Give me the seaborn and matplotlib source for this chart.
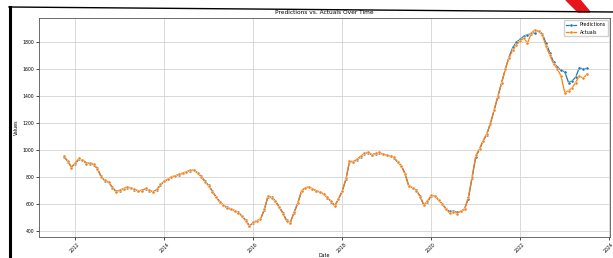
import matplotlib
matplotlib.use("Agg")
import matplotlib.pyplot as plt
import matplotlib.dates as mdates
from matplotlib.patches import Polygon
from matplotlib.lines import Line2D
import numpy as np
import pandas as pd
import seaborn as sns

# monthly observations, Oct 2011 .. Jul 2023
dates = pd.date_range("2011-10-01", "2023-07-01", freq="MS")

actuals = [
    955, 920, 870,
    905, 938, 925, 900, 905, 895, 860, 800, 775, 765, 720, 690,
    705, 715, 728, 720, 708, 700, 700, 716, 705, 688, 710, 745,
    770, 785, 802, 810, 820, 830, 840, 850, 852, 830, 800, 765,
    735, 690, 650, 615, 590, 570, 560, 550, 535, 510, 475, 435,
    465, 478, 490, 560, 661, 645, 620, 575, 530, 475, 462, 540,
    610, 700, 720, 728, 715, 700, 690, 675, 650, 620, 585, 640,
    700, 790, 920, 915, 930, 955, 975, 985, 965, 975, 983, 970,
    965, 955, 945, 910, 880, 820, 730, 720, 700, 655, 590, 620,
    665, 660, 630, 600, 560, 535, 540, 530, 550, 560, 650, 800,
    960, 1010, 1070, 1120, 1200, 1300, 1400, 1500, 1600, 1685, 1740, 1780,
    1810, 1830, 1790, 1864, 1890, 1880, 1850, 1770, 1700, 1640, 1600, 1550,
    1425, 1440, 1460, 1500, 1550, 1530, 1560,
]

predictions = [
    950, 915, 875,
    900, 930, 928, 905, 900, 890, 865, 805, 770, 760, 725, 695,
    700, 712, 722, 718, 705, 698, 702, 712, 700, 692, 705, 740,
    768, 782, 800, 808, 818, 828, 838, 848, 850, 832, 805, 770,
    738, 695, 655, 618, 592, 575, 565, 552, 540, 512, 480, 440,
    460, 475, 488, 555, 655, 650, 625, 580, 535, 480, 465, 535,
    605, 695, 718, 725, 712, 698, 688, 672, 648, 618, 590, 635,
    695, 785, 910, 912, 928, 950, 972, 980, 965, 972, 980, 968,
    962, 955, 942, 912, 885, 825, 735, 722, 702, 660, 595, 615,
    660, 662, 632, 602, 565, 545, 548, 540, 545, 565, 640, 790,
    950, 1005, 1065, 1115, 1195, 1295, 1395, 1500, 1600, 1690, 1760, 1800,
    1820, 1845, 1855, 1860, 1870, 1885, 1860, 1790, 1720, 1650, 1615, 1590,
    1580, 1500, 1510, 1540, 1610, 1600, 1605,
]

df = pd.DataFrame({"Date": dates, "Predictions": predictions, "Actuals": actuals})

fig = plt.figure(figsize=(6.13, 2.58), dpi=100)
ax = fig.add_axes([0.0636, 0.0814, 0.932, 0.849])

sns.lineplot(data=df, x="Date", y="Predictions", ax=ax, color="#1f77b4",
             marker="o", markersize=2.2, markeredgewidth=0.3, linewidth=0.9,
             label="Predictions")
sns.lineplot(data=df, x="Date", y="Actuals", ax=ax, color="#ff7f0e",
             marker="o", markersize=2.2, markeredgewidth=0.3, linewidth=0.9,
             label="Actuals")

ax.set_xlim(pd.Timestamp("2011-03-10"), pd.Timestamp("2024-01-10"))
ax.set_ylim(356, 1978)
ax.xaxis.set_major_locator(mdates.YearLocator(2))
ax.xaxis.set_major_formatter(mdates.DateFormatter("%Y"))
ax.set_yticks([400, 600, 800, 1000, 1200, 1400, 1600, 1800])
ax.grid(True, color="#d3d3d3", linewidth=0.6)
ax.tick_params(labelsize=3.3, length=2, width=0.5, pad=1.2)
plt.setp(ax.get_xticklabels(), rotation=45)
for s in ax.spines.values():
    s.set_linewidth(0.6)
    s.set_color("#555555")

ax.set_title("Predictions vs. Actuals Over Time", fontsize=4.2, pad=2.5)
ax.set_xlabel("Date", fontsize=3.4, labelpad=0)
ax.set_ylabel("Values", fontsize=3.4, labelpad=3)

ax.legend(loc="upper right", fontsize=3.4, frameon=True, framealpha=0.9,
          borderpad=0.4, handlelength=2.2, edgecolor="#cccccc")

# screenshot frame and corner mark
fig.add_artist(Line2D([9.5 / 613, 9.5 / 613], [0, 1 - 7 / 258], color="black",
                      linewidth=2.2, transform=fig.transFigure))
fig.add_artist(Line2D([9 / 613, 1], [1 - 7 / 258, 1 - 12 / 258], color="black",
                      linewidth=1.0, transform=fig.transFigure))
fig.add_artist(Polygon([[566 / 613, 1], [580 / 613, 1], [590 / 613, 1 - 12 / 258],
                        [578 / 613, 1 - 12 / 258]], closed=True, color="#e8141c",
                       transform=fig.transFigure))

fig.savefig("out.png", dpi=100)
